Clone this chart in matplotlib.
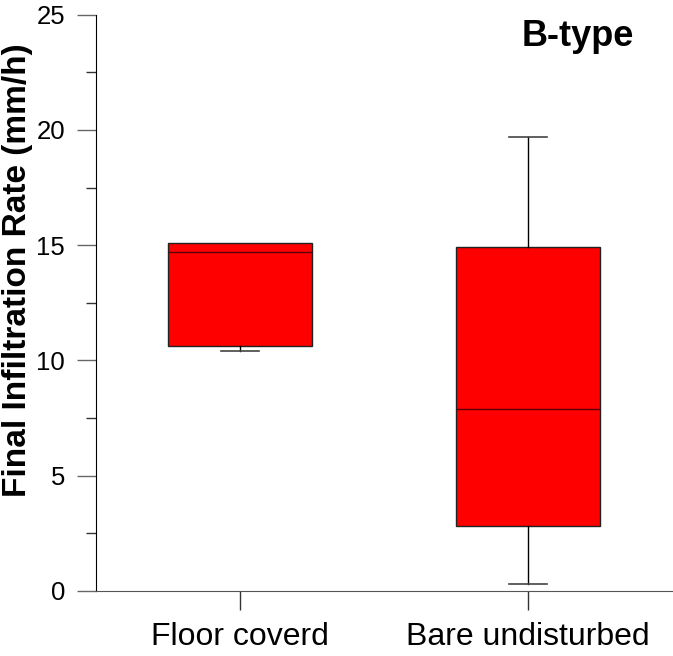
import matplotlib
matplotlib.use("Agg")
import matplotlib.pyplot as plt
from matplotlib.ticker import MultipleLocator

plt.rcParams['font.family'] = ['Liberation Sans', 'DejaVu Sans']

categories = ["Floor coverd", "Bare undisturbed"]
whisker_low = [10.4, 0.3]
q1 = [10.6, 2.8]
median = [14.7, 7.9]
q3 = [15.1, 14.9]
whisker_high = [15.1, 19.7]
title_text = "B-type"
ylabel_text = "Final Infiltration Rate (mm/h)"

fig = plt.figure(figsize=(6.73, 6.56), dpi=100)
ax = fig.add_axes([96/673, 65.3/656, (672-96)/673, (591-15)/656])

stats = []
for i, c in enumerate(categories):
    stats.append(dict(label=c, whislo=whisker_low[i], q1=q1[i], med=median[i],
                      q3=q3[i], whishi=whisker_high[i], fliers=[]))

bp = ax.bxp(stats, positions=[1, 2], widths=0.5, patch_artist=True, showfliers=False,
            boxprops=dict(facecolor='#ff0000', edgecolor='#222222', linewidth=1.0),
            medianprops=dict(color='#5a0000', linewidth=1.0),
            whiskerprops=dict(color='black', linewidth=1.0),
            capprops=dict(color='#444444', linewidth=1.2),
            capwidths=0.135)
# hide caps that coincide with the box edge
for i in range(len(categories)):
    if whisker_high[i] <= q3[i]:
        bp['caps'][2 * i + 1].set_visible(False)
    if whisker_low[i] >= q1[i]:
        bp['caps'][2 * i].set_visible(False)

ax.set_xlim(0.5, 2.5)
ax.set_ylim(0, 25)
ax.yaxis.set_major_locator(MultipleLocator(5))
ax.yaxis.set_minor_locator(MultipleLocator(2.5))
ax.spines['top'].set_visible(False)
ax.spines['right'].set_visible(False)
ax.spines['left'].set_color('black')
ax.spines['bottom'].set_color('#555555')
ax.tick_params(axis='y', which='major', length=13.7, width=1, color='#666666',
               labelsize=18.5, pad=8.5)
ax.tick_params(axis='y', which='minor', length=7.2, width=1, color='#333333')
ax.tick_params(axis='x', which='major', length=13.7, width=1, color='#333333',
               labelsize=23, pad=9)
ax.set_xticks([1, 2])
ax.set_xticklabels(categories)

fig.text(18/673, 1 - 270/656, ylabel_text, rotation=90, ha='center', va='center',
         fontsize=24, fontweight='bold')
fig.text(522/673, 1 - 46/656, title_text, ha='left', va='baseline',
         fontsize=26, fontweight='bold')

fig.savefig("out.png", dpi=100)
